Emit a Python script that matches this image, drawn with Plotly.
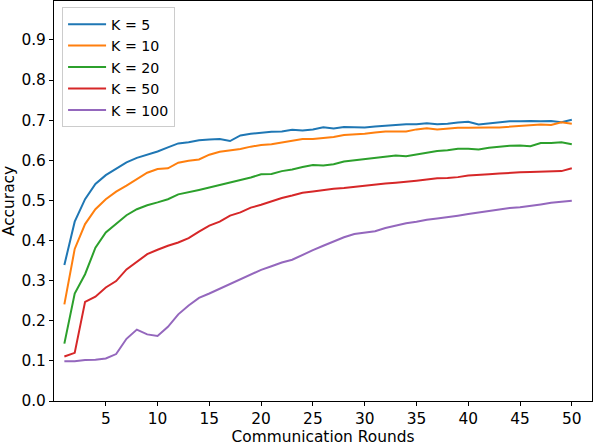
import plotly.graph_objects as go

rounds = list(range(1, 51))

acc_k5 = [0.339, 0.447, 0.503, 0.541, 0.563, 0.580, 0.595, 0.606, 0.614, 0.622,
          0.632, 0.642, 0.645, 0.650, 0.652, 0.653, 0.648, 0.662, 0.666, 0.669,
          0.671, 0.672, 0.676, 0.674, 0.677, 0.682, 0.679, 0.683, 0.683, 0.682,
          0.684, 0.686, 0.688, 0.690, 0.690, 0.692, 0.690, 0.691, 0.694, 0.696,
          0.689, 0.692, 0.695, 0.697, 0.697, 0.698, 0.697, 0.698, 0.695, 0.701]
acc_k10 = [0.241, 0.379, 0.441, 0.478, 0.503, 0.522, 0.537, 0.553, 0.569, 0.578,
           0.580, 0.594, 0.599, 0.602, 0.614, 0.621, 0.624, 0.628, 0.634, 0.638,
           0.640, 0.644, 0.648, 0.653, 0.653, 0.655, 0.658, 0.663, 0.664, 0.666,
           0.669, 0.672, 0.672, 0.672, 0.677, 0.680, 0.677, 0.679, 0.681, 0.681,
           0.682, 0.682, 0.682, 0.684, 0.686, 0.687, 0.689, 0.688, 0.695, 0.691]
acc_k20 = [0.143, 0.268, 0.316, 0.382, 0.420, 0.441, 0.463, 0.478, 0.488, 0.495,
           0.503, 0.515, 0.520, 0.526, 0.532, 0.538, 0.545, 0.550, 0.557, 0.565,
           0.566, 0.573, 0.577, 0.583, 0.588, 0.587, 0.590, 0.597, 0.600, 0.603,
           0.605, 0.609, 0.612, 0.610, 0.614, 0.619, 0.623, 0.625, 0.629, 0.629,
           0.627, 0.631, 0.634, 0.636, 0.637, 0.635, 0.643, 0.643, 0.645, 0.640]
acc_k50 = [0.111, 0.120, 0.247, 0.260, 0.283, 0.299, 0.328, 0.347, 0.366, 0.377,
           0.387, 0.395, 0.406, 0.422, 0.437, 0.447, 0.462, 0.470, 0.482, 0.489,
           0.498, 0.506, 0.512, 0.519, 0.522, 0.526, 0.529, 0.531, 0.534, 0.537,
           0.540, 0.542, 0.544, 0.546, 0.549, 0.552, 0.555, 0.556, 0.558, 0.562,
           0.563, 0.565, 0.567, 0.569, 0.570, 0.571, 0.572, 0.573, 0.573, 0.580]
acc_k100 = [0.099, 0.099, 0.102, 0.103, 0.106, 0.117, 0.155, 0.178, 0.166, 0.162,
            0.185, 0.216, 0.238, 0.257, 0.268, 0.280, 0.291, 0.302, 0.315, 0.327,
            0.336, 0.345, 0.352, 0.365, 0.376, 0.387, 0.398, 0.408, 0.416, 0.420,
            0.423, 0.431, 0.437, 0.443, 0.447, 0.452, 0.455, 0.458, 0.462, 0.466,
            0.470, 0.474, 0.478, 0.481, 0.483, 0.486, 0.490, 0.494, 0.497, 0.499]

names = ['K = 5', 'K = 10', 'K = 20', 'K = 50', 'K = 100']
series = [acc_k5, acc_k10, acc_k20, acc_k50, acc_k100]
colors = ['#1f77b4', '#ff7f0e', '#2ca02c', '#d62728', '#9467bd']

xticks = [5, 10, 15, 20, 25, 30, 35, 40, 45, 50]
yticks = [0.0, 0.1, 0.2, 0.3, 0.4, 0.5, 0.6, 0.7, 0.8, 0.9]

FONT = 'DejaVu Sans'
FS = 15.4

fig = go.Figure()
for name, ys, c in zip(names, series, colors):
    fig.add_trace(go.Scatter(x=rounds, y=ys, mode='lines', name=name,
                             line=dict(color=c, width=2)))

axis_style = dict(showline=True, linecolor='black', linewidth=1, mirror=True,
                  ticks='outside', ticklen=4, tickwidth=1, tickcolor='black',
                  showgrid=False, zeroline=False,
                  tickfont=dict(family=FONT, size=FS, color='black'))

fig.update_layout(
    width=594, height=446,
    margin=dict(l=54, r=2, t=1, b=45, autoexpand=False),
    paper_bgcolor='white', plot_bgcolor='white',
    font=dict(family=FONT, size=FS, color='black'),
    xaxis=dict(range=[0, 51.95], tickvals=xticks,
               title=dict(text='Communication Rounds', standoff=2,
                          font=dict(family=FONT, size=FS)),
               **axis_style),
    yaxis=dict(range=[0, 0.997], tickvals=yticks, tickformat='.1f',
               title=dict(text='Accuracy', standoff=5,
                          font=dict(family=FONT, size=FS)),
               **axis_style),
    legend=dict(x=0.015, y=0.984, xanchor='left', yanchor='top',
                bgcolor='rgba(255,255,255,0.8)', bordercolor='#cccccc', borderwidth=1,
                font=dict(family=FONT, size=14.2), itemwidth=38),
    showlegend=True,
)

# drop the browser's default 8px body margin so the chart sits at the page corner
fig.write_html("out.html", config={'displayModeBar': False},
               post_script="document.body.style.margin='0';")
